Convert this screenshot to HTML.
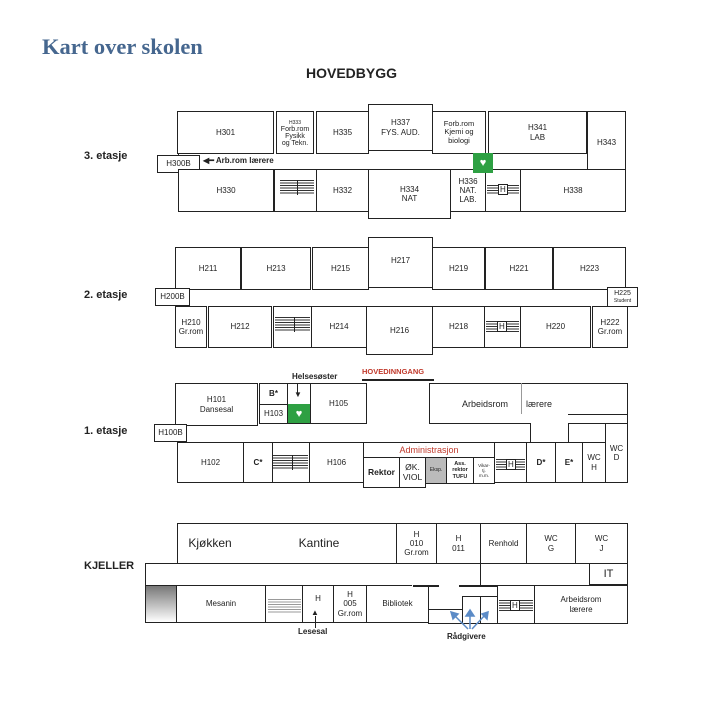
<!DOCTYPE html>
<html><head><meta charset="utf-8"><style>
body{margin:0;width:714px;height:704px;background:#fff;position:relative;overflow:hidden;font-family:"Liberation Sans",sans-serif}
.r{position:absolute;border:1px solid #222;box-sizing:border-box;display:flex;align-items:center;justify-content:center;text-align:center;font-size:8px;line-height:1.15;color:#222;background:#fff}
.t{position:absolute;white-space:nowrap;color:#222}
.l{position:absolute;background:#222}
.st{position:absolute;background:repeating-linear-gradient(#333 0 1px,transparent 1px 2.5px)}
.lab{position:absolute;font-weight:bold;font-size:11px;color:#222}
.aed{position:absolute;background:#2ea043;color:#fff;font-size:11px;display:flex;align-items:center;justify-content:center}
</style></head><body>
<div class="t" style="left:42px;top:34px;font:bold 22.5px 'Liberation Serif',serif;color:#46678f">Kart over skolen</div>
<div class="t" style="left:306px;top:65px;font-weight:bold;font-size:14px">HOVEDBYGG</div>
<div class="lab" style="left:84px;top:150px">3. etasje</div>
<div class="lab" style="left:84px;top:289px">2. etasje</div>
<div class="lab" style="left:84px;top:425px">1. etasje</div>
<div class="lab" style="left:84px;top:560px">KJELLER</div>

<!-- Floor 3 -->
<div class="l" style="left:178px;top:153px;width:1px;height:16px"></div>
<div class="r" style="left:177px;top:111px;width:97px;height:43px">H301</div>
<div class="r" style="left:276px;top:111px;width:38px;height:43px;font-size:7px;line-height:1"><div><span style="font-size:5px">H333</span><br>Forb.rom<br>Fysikk<br>og Tekn.</div></div>
<div class="r" style="left:316px;top:111px;width:53px;height:43px">H335</div>
<div class="r" style="left:368px;top:104px;width:65px;height:47px">H337<br>FYS. AUD.</div>
<div class="r" style="left:432px;top:111px;width:54px;height:43px;font-size:7.5px">Forb.rom<br>Kjemi og<br>biologi</div>
<div class="r" style="left:488px;top:111px;width:99px;height:43px">H341<br>LAB</div>
<div class="r" style="left:587px;top:111px;width:39px;height:63px">H343</div>
<div class="r" style="left:157px;top:155px;width:43px;height:18px">H300B</div>
<div class="t" style="left:203px;top:156px;font-size:8px;font-weight:bold">◀━ Arb.rom lærere</div>
<div class="r" style="left:178px;top:169px;width:96px;height:43px">H330</div>
<div class="r" style="left:274px;top:169px;width:43px;height:43px"></div>
<div class="st" style="left:280px;top:180px;width:34px;height:15px"></div>
<div class="l" style="left:297px;top:180px;width:1px;height:15px"></div>
<div class="r" style="left:316px;top:169px;width:53px;height:43px">H332</div>
<div class="r" style="left:368px;top:169px;width:83px;height:50px">H334<br>NAT</div>
<div class="r" style="left:450px;top:169px;width:36px;height:43px">H336<br>NAT.<br>LAB.</div>
<div class="r" style="left:485px;top:169px;width:36px;height:43px"></div>
<div class="st" style="left:487px;top:185px;width:32px;height:9px"></div>
<div class="t" style="left:498px;top:184px;font-size:8px;background:#fff;border:1px solid #222;padding:0 1px;line-height:9px">H</div>
<div class="r" style="left:520px;top:169px;width:106px;height:43px">H338</div>
<div class="aed" style="left:473px;top:153px;width:20px;height:20px">♥</div>

<!-- Floor 2 -->
<div class="r" style="left:175px;top:247px;width:66px;height:43px">H211</div>
<div class="r" style="left:241px;top:247px;width:70px;height:43px">H213</div>
<div class="r" style="left:312px;top:247px;width:57px;height:43px">H215</div>
<div class="r" style="left:368px;top:237px;width:65px;height:51px;align-items:flex-start;padding-top:18px">H217</div>
<div class="r" style="left:432px;top:247px;width:53px;height:43px">H219</div>
<div class="r" style="left:485px;top:247px;width:68px;height:43px">H221</div>
<div class="r" style="left:553px;top:247px;width:73px;height:43px">H223</div>
<div class="l" style="left:175px;top:290px;width:1px;height:16px"></div>
<div class="l" style="left:625px;top:290px;width:1px;height:16px"></div>
<div class="r" style="left:155px;top:288px;width:35px;height:18px">H200B</div>
<div class="r" style="left:607px;top:287px;width:31px;height:20px;font-size:7px;line-height:1"><div>H225<br><span style="font-size:5px">Student</span></div></div>
<div class="r" style="left:175px;top:306px;width:32px;height:42px">H210<br>Gr.rom</div>
<div class="r" style="left:208px;top:306px;width:64px;height:42px">H212</div>
<div class="r" style="left:273px;top:306px;width:39px;height:42px"></div>
<div class="st" style="left:275px;top:317px;width:35px;height:15px"></div>
<div class="l" style="left:294px;top:317px;width:1px;height:15px"></div>
<div class="r" style="left:311px;top:306px;width:56px;height:42px">H214</div>
<div class="r" style="left:366px;top:306px;width:67px;height:49px">H216</div>
<div class="r" style="left:432px;top:306px;width:53px;height:42px">H218</div>
<div class="r" style="left:484px;top:306px;width:37px;height:42px"></div>
<div class="st" style="left:486px;top:321px;width:33px;height:11px"></div>
<div class="t" style="left:497px;top:321px;font-size:8px;background:#fff;border:1px solid #222;padding:0 1px;line-height:9px">H</div>
<div class="r" style="left:520px;top:306px;width:71px;height:42px">H220</div>
<div class="r" style="left:592px;top:306px;width:36px;height:42px">H222<br>Gr.rom</div>

<!-- Floor 1 -->
<div class="t" style="left:292px;top:372px;font-size:8px;font-weight:bold">Helsesøster</div>
<div class="t" style="left:362px;top:367px;font-size:7.5px;font-weight:bold;color:#c0392b">HOVEDINNGANG</div>
<div class="l" style="left:362px;top:379px;width:72px;height:2px"></div>
<div class="r" style="left:175px;top:383px;width:83px;height:43px">H101<br>Dansesal</div>
<div class="r" style="left:259px;top:383px;width:29px;height:22px;font-weight:bold">B*</div>
<div class="r" style="left:259px;top:404px;width:29px;height:20px">H103</div>
<div class="r" style="left:287px;top:383px;width:24px;height:41px"></div>
<div class="aed" style="left:288px;top:404px;width:22px;height:19px">♥</div>
<div class="l" style="left:297px;top:384px;width:1px;height:10px"></div>
<div class="t" style="left:294px;top:390px;font-size:8px">▼</div>
<div class="r" style="left:310px;top:383px;width:57px;height:41px">H105</div>
<div class="l" style="left:429px;top:383px;width:199px;height:1px"></div>
<div class="l" style="left:429px;top:383px;width:1px;height:41px"></div>
<div class="l" style="left:429px;top:423px;width:101px;height:1px"></div>
<div class="l" style="left:530px;top:423px;width:1px;height:19px"></div>
<div class="l" style="left:521px;top:383px;width:1px;height:31px;background:#999"></div>
<div class="l" style="left:568px;top:414px;width:60px;height:1px"></div>
<div class="l" style="left:568px;top:423px;width:1px;height:19px"></div>
<div class="l" style="left:568px;top:423px;width:37px;height:1px"></div>
<div class="l" style="left:627px;top:383px;width:1px;height:100px"></div>
<div class="t" style="left:462px;top:399px;font-size:9px">Arbeidsrom</div>
<div class="t" style="left:526px;top:399px;font-size:9px">lærere</div>
<div class="l" style="left:177px;top:425px;width:1px;height:17px"></div>
<div class="r" style="left:154px;top:424px;width:33px;height:18px">H100B</div>
<div class="r" style="left:177px;top:442px;width:67px;height:41px">H102</div>
<div class="r" style="left:243px;top:442px;width:30px;height:41px;font-weight:bold">C*</div>
<div class="r" style="left:272px;top:442px;width:38px;height:41px"></div>
<div class="st" style="left:273px;top:455px;width:35px;height:15px"></div>
<div class="l" style="left:292px;top:455px;width:1px;height:15px"></div>
<div class="r" style="left:309px;top:442px;width:55px;height:41px">H106</div>
<div class="r" style="left:363px;top:442px;width:132px;height:16px;color:#c0392b;font-size:9px">Administrasjon</div>
<div class="r" style="left:363px;top:457px;width:37px;height:31px;font-weight:bold;font-size:8.5px">Rektor</div>
<div class="r" style="left:399px;top:457px;width:27px;height:31px;font-size:8.5px">ØK.<br>VIOL</div>
<div class="r" style="left:425px;top:457px;width:22px;height:27px;background:#bbb;font-size:5px">Eksp.</div>
<div class="r" style="left:446px;top:457px;width:28px;height:27px;font-size:5.5px;font-weight:bold">Ass.<br>rektor<br>TUFU</div>
<div class="r" style="left:473px;top:457px;width:22px;height:27px;font-size:4.5px">Vikar-<br>tj.<br>m.m.</div>
<div class="r" style="left:494px;top:442px;width:33px;height:41px"></div>
<div class="st" style="left:496px;top:459px;width:29px;height:11px"></div>
<div class="t" style="left:506px;top:459px;font-size:8px;background:#fff;border:1px solid #222;padding:0 1px;line-height:9px">H</div>
<div class="r" style="left:526px;top:442px;width:30px;height:41px;font-weight:bold">D*</div>
<div class="r" style="left:555px;top:442px;width:28px;height:41px;font-weight:bold">E*</div>
<div class="r" style="left:582px;top:442px;width:24px;height:41px">WC<br>H</div>
<div class="r" style="left:605px;top:423px;width:23px;height:60px">WC<br>D</div>

<!-- Kjeller -->
<div class="r" style="left:177px;top:523px;width:66px;height:41px;font-size:12px">Kjøkken</div>
<div class="r" style="left:242px;top:523px;width:155px;height:41px;font-size:12px;border-left:none">Kantine</div>
<div class="r" style="left:396px;top:523px;width:41px;height:41px">H<br>010<br>Gr.rom</div>
<div class="r" style="left:436px;top:523px;width:45px;height:41px">H<br>011</div>
<div class="r" style="left:480px;top:523px;width:47px;height:41px">Renhold</div>
<div class="r" style="left:526px;top:523px;width:50px;height:41px">WC<br>G</div>
<div class="r" style="left:575px;top:523px;width:53px;height:41px">WC<br>J</div>
<div class="l" style="left:145px;top:563px;width:33px;height:1px"></div>
<div class="l" style="left:145px;top:563px;width:1px;height:60px"></div>
<div class="l" style="left:627px;top:563px;width:1px;height:60px"></div>
<div class="l" style="left:480px;top:563px;width:1px;height:22px"></div>
<div class="r" style="left:589px;top:563px;width:39px;height:22px;font-size:11px">IT</div>
<div class="r" style="left:145px;top:585px;width:32px;height:38px;background:linear-gradient(#777,#fff)"></div>
<div class="r" style="left:176px;top:585px;width:90px;height:38px">Mesanin</div>
<div class="r" style="left:265px;top:585px;width:38px;height:38px"></div>
<div class="st" style="left:268px;top:599px;width:33px;height:14px;opacity:.5"></div>
<div class="r" style="left:302px;top:585px;width:32px;height:38px;align-items:flex-start;padding-top:8px">H</div>
<div class="l" style="left:315px;top:616px;width:1px;height:12px"></div>
<div class="t" style="left:311px;top:608px;font-size:8px">▲</div>
<div class="r" style="left:333px;top:585px;width:34px;height:38px">H<br>005<br>Gr.rom</div>
<div class="r" style="left:366px;top:585px;width:63px;height:38px;border-top:none">Bibliotek</div>
<div class="l" style="left:366px;top:585px;width:46px;height:1px"></div>
<div class="l" style="left:413px;top:585px;width:26px;height:2px"></div>
<div class="l" style="left:459px;top:585px;width:39px;height:2px"></div>
<div class="l" style="left:428px;top:609px;width:34px;height:1px"></div>
<div class="l" style="left:428px;top:623px;width:200px;height:1px"></div>
<div class="r" style="left:462px;top:596px;width:19px;height:28px"></div>
<div class="r" style="left:480px;top:596px;width:18px;height:28px"></div>
<div class="r" style="left:497px;top:585px;width:38px;height:39px"></div>
<div class="st" style="left:499px;top:600px;width:34px;height:11px"></div>
<div class="t" style="left:510px;top:600px;font-size:8px;background:#fff;border:1px solid #222;padding:0 1px;line-height:9px">H</div>
<div class="r" style="left:534px;top:585px;width:94px;height:39px">Arbeidsrom<br>lærere</div>
<div class="t" style="left:298px;top:627px;font-size:8px;font-weight:bold">Lesesal</div>
<div class="t" style="left:447px;top:632px;font-size:8px;font-weight:bold">Rådgivere</div>
<svg style="position:absolute;left:440px;top:605px" width="60" height="30"><g stroke="#5b8bc7" stroke-width="1.5" fill="#5b8bc7">
<line x1="28" y1="24" x2="14" y2="10"/><polygon points="11,7 18,9 13,14"/>
<line x1="30" y1="24" x2="30" y2="9"/><polygon points="30,5 26,11 34,11"/>
<line x1="32" y1="24" x2="45" y2="10"/><polygon points="48,7 42,9 47,14"/></g></svg>
</body></html>
